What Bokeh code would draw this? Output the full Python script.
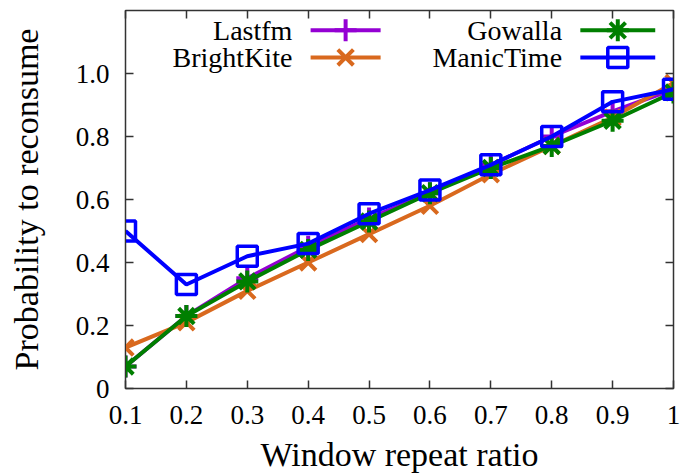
from bokeh.plotting import figure
from bokeh.models import FixedTicker, LinearAxis, Range1d
from bokeh.core.properties import value
from bokeh.embed import file_html
from bokeh.resources import INLINE

ratio = [0.1, 0.2, 0.3, 0.4, 0.5, 0.6, 0.7, 0.8, 0.9, 1.0]
lastfm = [0.07, 0.23, 0.35, 0.45, 0.54, 0.62, 0.71, 0.80, 0.88, 0.95]
brightkite = [0.13, 0.21, 0.31, 0.40, 0.49, 0.58, 0.68, 0.77, 0.86, 0.97]
gowalla = [0.07, 0.23, 0.34, 0.44, 0.53, 0.62, 0.70, 0.77, 0.85, 0.94]
manictime = [0.50, 0.33, 0.42, 0.46, 0.555, 0.63, 0.71, 0.80, 0.91, 0.95]
x_ticks = [0.1, 0.2, 0.3, 0.4, 0.5, 0.6, 0.7, 0.8, 0.9, 1.0]
x_tick_labels = ["0.1", "0.2", "0.3", "0.4", "0.5", "0.6", "0.7", "0.8", "0.9", "1"]
y_ticks = [0, 0.2, 0.4, 0.6, 0.8, 1.0]
y_tick_labels = ["0", "0.2", "0.4", "0.6", "0.8", "1.0"]

FONT = "Liberation Serif"

p = figure(width=689, height=476, output_backend="svg", toolbar_location=None,
           x_range=Range1d(0.1, 1.0), y_range=Range1d(0, 1.2),
           min_border_left=125, min_border_right=16, min_border_top=10,
           min_border_bottom=88)
p.grid.visible = False
p.outline_line_color = "#333333"
p.outline_line_width = 1.5

def style_axis(ax):
    ax.major_tick_in = 8
    ax.major_tick_out = 0
    ax.minor_tick_line_color = None
    ax.axis_line_color = "#333333"
    ax.major_tick_line_color = "#333333"
    ax.major_tick_line_width = 1.5
    ax.major_label_text_font = FONT
    ax.major_label_text_font_size = "27px"
    ax.major_label_text_color = "black"
    ax.axis_label_text_font = FONT
    ax.axis_label_text_font_size = "34px"
    ax.axis_label_text_font_style = "normal"
    ax.axis_label_text_color = "black"

xa = p.xaxis[0]
xa.ticker = FixedTicker(ticks=x_ticks)
xa.major_label_overrides = {t: l for t, l in zip(x_ticks, x_tick_labels)}
xa.axis_label = "Window repeat ratio"
xa.major_label_standoff = 17
xa.axis_label_standoff = 9
style_axis(xa)

ya = p.yaxis[0]
ya.ticker = FixedTicker(ticks=y_ticks)
ya.major_label_overrides = {t: l for t, l in zip(y_ticks, y_tick_labels)}
ya.axis_label = "Probability to reconsume"
ya.major_label_standoff = 16
ya.axis_label_standoff = 28
style_axis(ya)

top = LinearAxis(ticker=FixedTicker(ticks=x_ticks))
style_axis(top)
top.major_label_overrides = {t: "" for t in x_ticks}
top.major_label_standoff = 0
p.add_layout(top, "above")
right = LinearAxis(ticker=FixedTicker(ticks=y_ticks))
style_axis(right)
right.major_label_overrides = {t: "" for t in y_ticks}
right.major_label_standoff = 0
p.add_layout(right, "right")

series = [
    ("Lastfm", lastfm, "#9400D3", "cross"),
    ("BrightKite", brightkite, "#D9691E", "x"),
    ("Gowalla", gowalla, "#007F00", "asterisk"),
    ("ManicTime", manictime, "#0000FF", "square"),
]

for name, ys, col, mk in series:
    p.line(ratio, ys, line_color=col, line_width=4)
    if mk == "square":
        p.scatter(ratio, ys, marker=mk, size=20, line_color=col, line_width=3.5,
                  fill_color=None)
    else:
        p.scatter(ratio, ys, marker=mk, size=22, line_color=col, line_width=4)

# manual legend (gnuplot style: label then sample)
leg_pos = [
    (0.404, 0.519, 1.137),
    (0.404, 0.519, 1.051),
    (0.847, 0.970, 1.137),
    (0.847, 0.970, 1.051),
]
for (name, ys, col, mk), (x0, x1, yy) in zip(series, leg_pos):
    p.line([x0, x1], [yy, yy], line_color=col, line_width=4)
    xm = (x0 + x1) / 2
    if mk == "square":
        p.scatter([xm], [yy], marker=mk, size=20, line_color=col, line_width=3.5,
                  fill_color=None)
    else:
        p.scatter([xm], [yy], marker=mk, size=22, line_color=col, line_width=4)
    p.text([x0 - 0.03], [yy], text=[name], text_font=value(FONT),
           text_font_size="28px", text_align="right", text_baseline="middle",
           text_color="black")

open("out.html", "w").write(file_html(p, INLINE))
